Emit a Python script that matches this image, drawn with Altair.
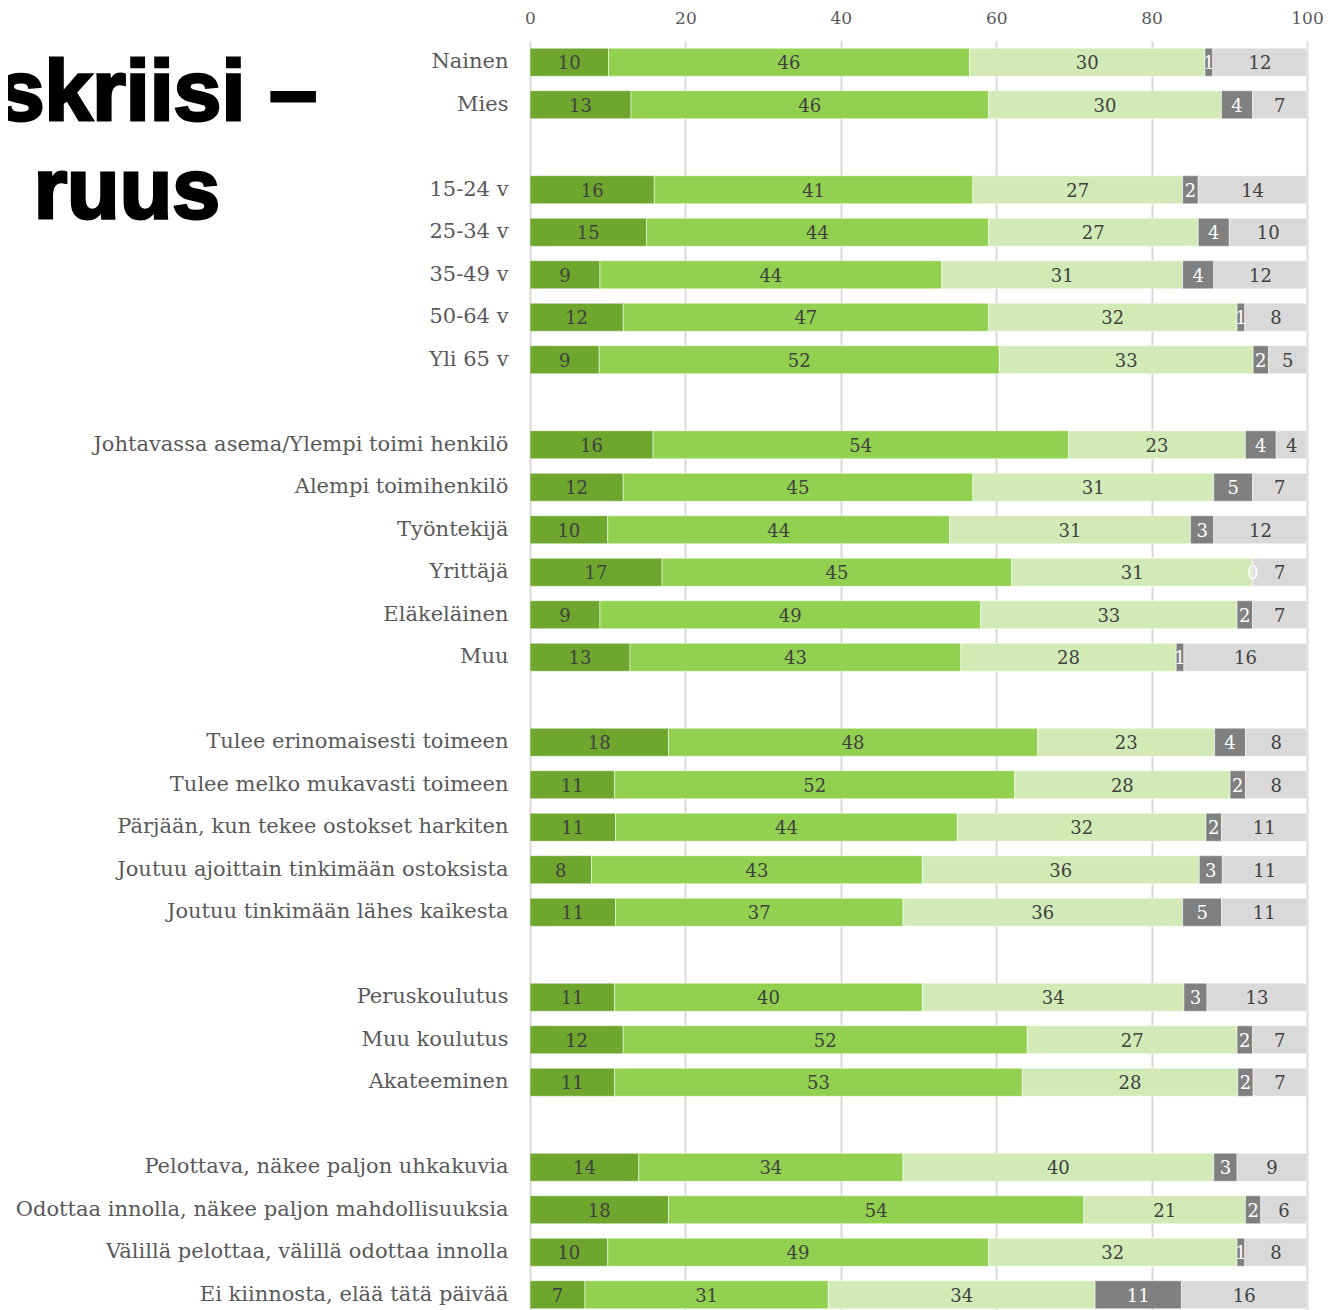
import altair as alt
import pandas as pd

groups = [
    ["Nainen", "Mies"],
    ["15-24 v", "25-34 v", "35-49 v", "50-64 v", "Yli 65 v"],
    ["Johtavassa asema/Ylempi toimi henkilö", "Alempi toimihenkilö", "Työntekijä",
     "Yrittäjä", "Eläkeläinen", "Muu"],
    ["Tulee erinomaisesti toimeen", "Tulee melko mukavasti toimeen",
     "Pärjään, kun tekee ostokset harkiten", "Joutuu ajoittain tinkimään ostoksista",
     "Joutuu tinkimään lähes kaikesta"],
    ["Peruskoulutus", "Muu koulutus", "Akateeminen"],
    ["Pelottava, näkee paljon uhkakuvia", "Odottaa innolla, näkee paljon mahdollisuuksia",
     "Välillä pelottaa, välillä odottaa innolla", "Ei kiinnosta, elää tätä päivää"],
]

s1 = [10, 13, 16, 15, 9, 12, 9, 16, 12, 10, 17, 9, 13, 18, 11, 11, 8, 11, 11, 12, 11, 14, 18, 10, 7]
s2 = [46, 46, 41, 44, 44, 47, 52, 54, 45, 44, 45, 49, 43, 48, 52, 44, 43, 37, 40, 52, 53, 34, 54, 49, 31]
s3 = [30, 30, 27, 27, 31, 32, 33, 23, 31, 31, 31, 33, 28, 23, 28, 32, 36, 36, 34, 27, 28, 40, 21, 32, 34]
s4 = [1, 4, 2, 4, 4, 1, 2, 4, 5, 3, 0, 2, 1, 4, 2, 2, 3, 5, 3, 2, 2, 3, 2, 1, 11]
s5 = [12, 7, 14, 10, 12, 8, 5, 4, 7, 12, 7, 7, 16, 8, 8, 11, 11, 11, 13, 7, 7, 9, 6, 8, 16]
series = [s1, s2, s3, s4, s5]
series_colors = ["#6ea62e", "#92d050", "#d2ebb6", "#808080", "#d9d9d9"]
tick_values = [0, 20, 40, 60, 80, 100]
title_lines = ["skriisi –", "ruus"]

categories = [c for g in groups for c in g]
y_domain = []
for gi, g in enumerate(groups):
    if gi > 0:
        y_domain.append(" " * gi)
    y_domain.extend(g)

rows = []
for ci, cat in enumerate(categories):
    for k, s in enumerate(series, start=1):
        rows.append({"cat": cat, "k": k, "v": s[ci]})
df = pd.DataFrame(rows)

SERIF = "DejaVu Serif"
n_rows = len(y_domain)
step = 42.5

base = (
    alt.Chart(df)
    .transform_joinaggregate(total="sum(v)", groupby=["cat"])
    .transform_calculate(pct="datum.v / datum.total * 100")
    .transform_window(cum="sum(pct)", sort=[alt.SortField("k")], groupby=["cat"], frame=[None, 0])
    .transform_calculate(start="datum.cum - datum.pct", mid="datum.cum - datum.pct / 2")
)

y_enc = alt.Y(
    "cat:N",
    scale=alt.Scale(domain=y_domain, paddingInner=0.34, paddingOuter=0.17),
    axis=alt.Axis(
        title=None, ticks=False, domain=False, grid=False,
        labelFont=SERIF, labelFontSize=21, labelColor="#595959",
        labelPadding=22, labelLimit=700, labelBaseline="middle",
    ),
)

bars = base.mark_bar(stroke="white", strokeWidth=0.5).encode(
    x=alt.X(
        "start:Q",
        scale=alt.Scale(domain=[0, 100], nice=False),
        axis=alt.Axis(
            orient="top", values=tick_values, title=None, grid=True,
            gridColor="#d9d9d9", gridWidth=2, domain=False, ticks=False,
            labelFont=SERIF, labelFontSize=17, labelColor="#595959",
            labelPadding=14, labelFlush=False,
        ),
    ),
    x2="end:Q",
    y=y_enc,
    color=alt.Color("k:O", scale=alt.Scale(domain=[1, 2, 3, 4, 5], range=series_colors), legend=None),
).transform_calculate(end="datum.cum")

labels = base.mark_text(font=SERIF, fontSize=18, baseline="middle", dy=2).encode(
    x="mid:Q",
    y=alt.Y("cat:N"),
    text="v:Q",
    color=alt.condition(alt.datum.k == 4, alt.value("white"), alt.value("#404040")),
)

title_style = dict(
    font="Liberation Sans", fontWeight="bold", fontSize=86, align="right",
    baseline="alphabetic", color="black", stroke="black", strokeWidth=3,
)

t1 = alt.Chart(pd.DataFrame({"t": [title_lines[0]]})).mark_text(**title_style).encode(
    text="t:N", x=alt.value(-213), y=alt.value(79)
)

t2 = alt.Chart(pd.DataFrame({"t": [title_lines[1]]})).mark_text(**title_style).encode(
    text="t:N", x=alt.value(-310), y=alt.value(177)
)

chart = (
    alt.layer(bars, labels, t1, t2)
    .properties(
        width=777,
        height=n_rows * step,
        autosize=alt.AutoSizeParams(type="none"),
        padding={"left": 522, "top": 33, "right": 24, "bottom": 10},
    )
    .configure_view(stroke=None)
)

chart.save("out.html", embed_options={"renderer": "svg", "actions": False})
